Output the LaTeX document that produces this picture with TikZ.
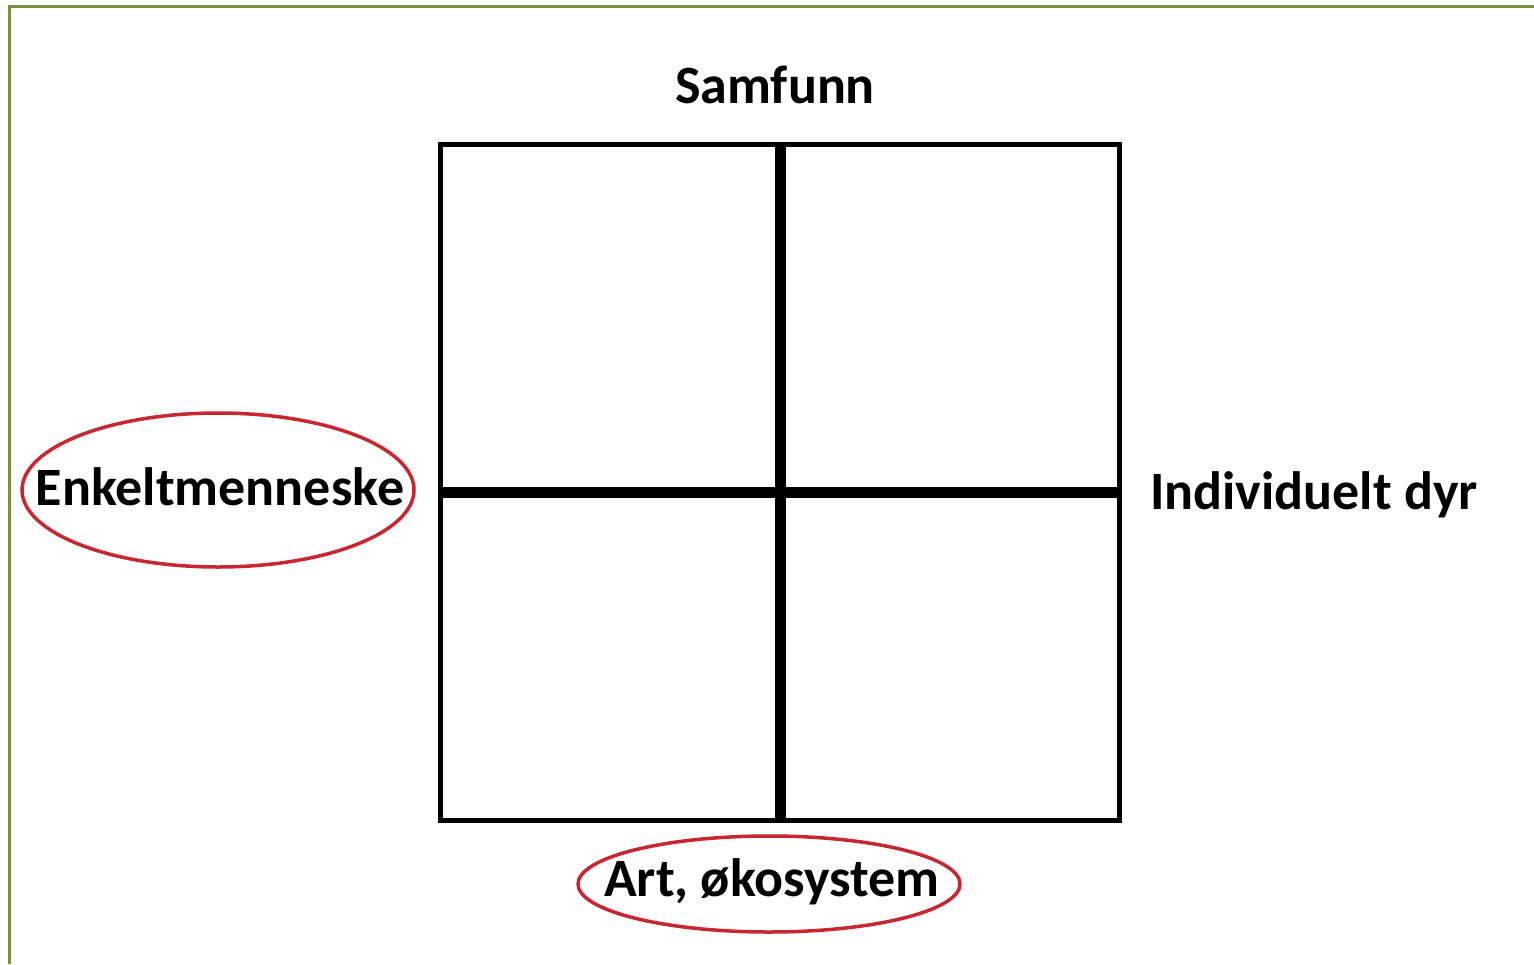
\documentclass[tikz,border=0pt]{standalone}
\usepackage{fontspec}
\setmainfont{Carlito}
\usetikzlibrary{positioning, shapes.geometric}
\definecolor{framegreen}{RGB}{118,146,58}
\definecolor{ringred}{RGB}{200,38,48}
\tikzstyle{axistext} = [font=\fontsize{54}{64}\selectfont\bfseries, text=black, inner sep=0pt]
\tikzstyle{ring} = [draw=ringred, line width=3.5pt]
\tikzstyle{frame} = [draw=black, line width=5pt]
\tikzstyle{cross} = [draw=black, line width=11pt]

\begin{document}
\begin{tikzpicture}[x=1pt, y=-1pt]
        \useasboundingbox (0,0) rectangle (1534,964);
        \draw [framegreen, line width=3pt] (9,964) -- (9,6) -- (1534,6);

        \coordinate (nw) at (440,144);
        \coordinate (se) at (1119,820);
        \coordinate (mid) at (780,492);

        \draw [frame] (nw) rectangle (se);
        \draw [cross] (nw -| mid) -- (se -| mid);
        \draw [cross] (nw |- mid) -- (se |- mid);

        \node (samfunn) [axistext] at (775,85) {Samfunn};
        \node (individ) [axistext, anchor=west] at (1150,495) {Individuelt dyr};
        \node (enkelt) [axistext] at (220,487) {Enkeltmenneske};
        \node (art) [axistext] at (772,882) {Art, økosystem};

        \draw [ring] (enkelt.center) ++(-2,3) ellipse [x radius=196, y radius=77];
        \draw [ring] (art.center) ++(-3,2) ellipse [x radius=191, y radius=48];

        \end{tikzpicture}
\end{document}
